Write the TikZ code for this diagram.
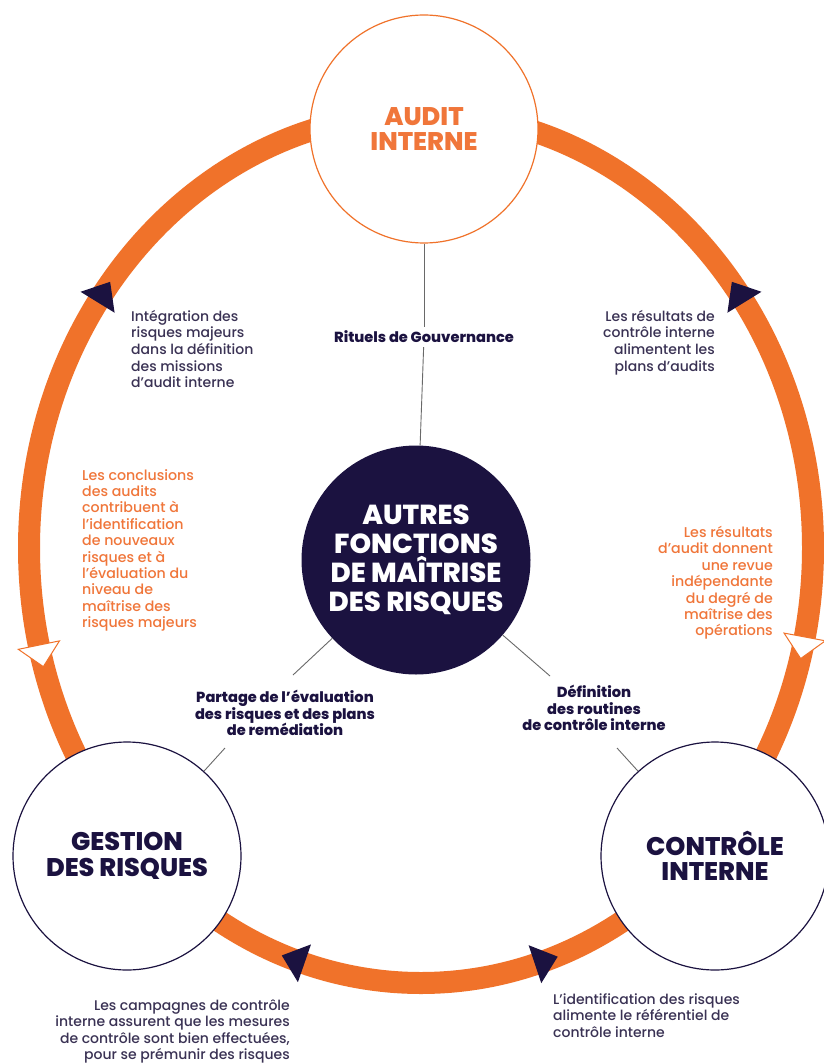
\documentclass[tikz,border=0pt]{standalone}
\usepackage{fontspec}
\setmainfont{Poppins}[UprightFont=* Medium, BoldFont=* ExtraBold, Ligatures=NoCommon]
\definecolor{ringc}{RGB}{240,114,42}
\definecolor{ortext}{RGB}{240,118,58}
\definecolor{navy}{RGB}{27,18,64}
\definecolor{bodytxt}{RGB}{58,50,84}
\definecolor{thinc}{RGB}{105,105,105}
\begin{document}
\begin{tikzpicture}[x=1pt,y=1pt,
  bigc/.style={circle, minimum size=228pt, inner sep=0pt, fill=white, line width=1.2pt, align=center,
    font=\fontsize{25.5}{25.5}\selectfont\bfseries},
  body/.style={inner sep=0pt, text=bodytxt, font=\fontsize{14}{16.6}\selectfont},
  orbody/.style={inner sep=0pt, text=ortext, font=\fontsize{14.2}{16.4}\selectfont},
  boldlbl/.style={inner sep=4pt, text=navy, align=center, font=\fontsize{14.6}{16.5}\selectfont\bfseries},
  thinline/.style={draw=thinc, line width=0.9pt},
  darrow/.pic={\fill[navy] (24,0) -- (0,20) -- (0,-20) -- cycle;},
  harrow/.pic={\filldraw[fill=white, draw=ringc, line width=1pt] (22,0) -- (0,21) -- (0,-21) -- cycle;}
]
\useasboundingbox (0,0) rectangle (823,-1064);
\fill[white] (0,0) rectangle (823,-1064);

% ring
\draw[ringc, line width=22pt] (421,-548) ellipse [x radius=392pt, y radius=435pt];

% arrowheads on the ring
\pic[rotate=58.4] at ({421+392*cos(145.6)},{-548+435*sin(145.6)}) {darrow};
\pic[rotate=121.6] at ({421+392*cos(34.4)},{-548+435*sin(34.4)}) {darrow};
\pic[rotate=-78.4] at ({421+392*cos(192.9)},{-548+435*sin(192.9)}) {harrow};
\pic[rotate=-100.6] at ({421+392*cos(-11.8)},{-548+435*sin(-11.8)}) {harrow};
\pic[rotate=160.9] at ({421+392*cos(252.7)},{-548+435*sin(252.7)}) {darrow};
\pic[rotate=18.4] at ({421+392*cos(-73.1)},{-548+435*sin(-73.1)}) {darrow};

% main circles
\node[bigc, draw=ringc, text=ortext] (audit) at (424,-129) {AUDIT\\INTERNE};
\node[bigc, draw=navy, text=navy] (gest) at (127,-856) {GESTION\\DES RISQUES};
\node[bigc, draw=navy, text=navy] (ctrl) at (715,-856) {CONTRÔLE\\INTERNE};
\node[circle, minimum size=229pt, inner sep=0pt, fill=navy, text=white, align=center,
  font=\fontsize{27.5}{29}\selectfont\bfseries] (ctr) at (416,-560) {AUTRES\\FONCTIONS\\DE MAÎTRISE\\DES RISQUES};

% link labels
\node[boldlbl] (rit) at (424,-337) {Rituels de Gouvernance};
\node[boldlbl] (part) at (285,-713) {Partage de l’évaluation\\des risques et des plans\\de remédiation};
\node[boldlbl] (defi) at (594,-708) {Définition\\des routines\\de contrôle interne};

\coordinate (pL1) at (293,-675);
\coordinate (pL2) at (225,-748);
\coordinate (pR1) at (550,-676);
\coordinate (pR2) at (617,-748);

\draw[thinline] (audit) -- (rit);
\draw[thinline] (rit) -- (ctr);
\draw[thinline] (ctr) -- (pL1);
\draw[thinline] (pL2) -- (gest);
\draw[thinline] (ctr) -- (pR1);
\draw[thinline] (pR2) -- (ctrl);

% flow texts
\node[body, anchor=north west, align=left] (t1) at (131,-310)
  {Intégration des\\risques majeurs\\dans la définition\\des missions\\d'audit interne};
\node[body, anchor=north east, align=right] (t2) at (715,-310)
  {Les résultats de\\contrôle interne\\alimentent les\\plans d’audits};
\node[orbody, anchor=north west, align=left] (t3) at (82,-469)
  {Les conclusions\\des audits\\contribuent à\\l’identification\\de nouveaux\\risques et à\\l’évaluation du\\niveau de\\maîtrise des\\risques majeurs};
\node[orbody, anchor=north east, align=right] (t4) at (773,-526)
  {Les résultats\\d’audit donnent\\une revue\\indépendante\\du degré de\\maîtrise des\\opérations};
\node[body, anchor=north east, align=right] (t5) at (290,-999)
  {Les campagnes de contrôle\\interne assurent que les mesures\\de contrôle sont bien effectuées,\\pour se prémunir des risques};
\node[body, anchor=north west, align=left] (t6) at (553,-993)
  {L’identification des risques\\alimente le référentiel de\\contrôle interne};
\end{tikzpicture}
\end{document}
